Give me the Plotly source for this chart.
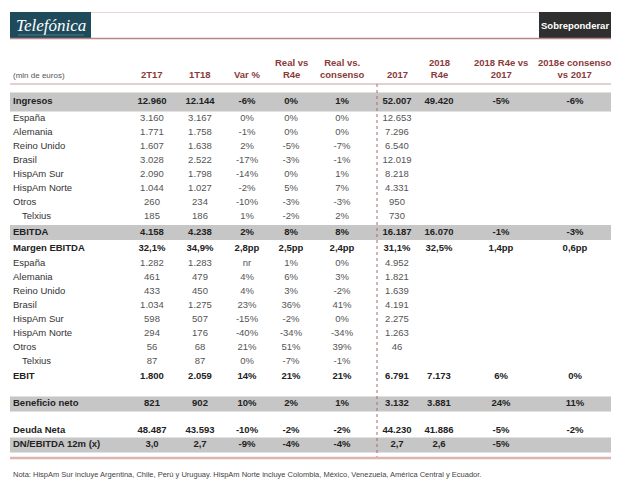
import plotly.graph_objects as go

# ---------------- data ----------------
row_labels = ["Ingresos", "España", "Alemania", "Reino Unido", "Brasil", "HispAm Sur",
              "HispAm Norte", "Otros", "Telxius", "EBITDA", "Margen EBITDA", "España",
              "Alemania", "Reino Unido", "Brasil", "HispAm Sur", "HispAm Norte", "Otros",
              "Telxius", "EBIT", "Beneficio neto", "Deuda Neta", "DN/EBITDA 12m (x)"]
bold_rows = ["Ingresos", "EBITDA", "Margen EBITDA", "EBIT", "Beneficio neto",
             "Deuda Neta", "DN/EBITDA 12m (x)"]
indented_rows = ["Telxius"]
banded_rows = ["Ingresos", "EBITDA", "Beneficio neto", "DN/EBITDA 12m (x)"]

col_headers = ["2T17", "1T18", "Var %", "Real vs<br>R4e", "Real vs.<br>consenso",
               "2017", "2018<br>R4e", "2018 R4e vs<br>2017", "2018e consenso<br>vs 2017"]

col_2T17 = ["12.960", "3.160", "1.771", "1.607", "3.028", "2.090", "1.044", "260", "185",
            "4.158", "32,1%", "1.282", "461", "433", "1.034", "598", "294", "56", "87",
            "1.800", "821", "48.487", "3,0"]
col_1T18 = ["12.144", "3.167", "1.758", "1.638", "2.522", "1.798", "1.027", "234", "186",
            "4.238", "34,9%", "1.283", "479", "450", "1.275", "507", "176", "68", "87",
            "2.059", "902", "43.593", "2,7"]
col_var = ["-6%", "0%", "-1%", "2%", "-17%", "-14%", "-2%", "-10%", "1%",
           "2%", "2,8pp", "nr", "4%", "4%", "23%", "-15%", "-40%", "21%", "0%",
           "14%", "10%", "-10%", "-9%"]
col_real_r4e = ["0%", "0%", "0%", "-5%", "-3%", "0%", "5%", "-3%", "-2%",
                "8%", "2,5pp", "1%", "6%", "3%", "36%", "-2%", "-34%", "51%", "-7%",
                "21%", "2%", "-2%", "-4%"]
col_real_cons = ["1%", "0%", "0%", "-7%", "-1%", "1%", "7%", "-3%", "2%",
                 "8%", "2,4pp", "0%", "3%", "-2%", "41%", "0%", "-34%", "39%", "-1%",
                 "21%", "1%", "-2%", "-4%"]
col_2017 = ["52.007", "12.653", "7.296", "6.540", "12.019", "8.218", "4.331", "950", "730",
            "16.187", "31,1%", "4.952", "1.821", "1.639", "4.191", "2.275", "1.263", "46", "",
            "6.791", "3.132", "44.230", "2,7"]
col_2018_r4e = ["49.420", "", "", "", "", "", "", "", "",
                "16.070", "32,5%", "", "", "", "", "", "", "", "",
                "7.173", "3.881", "41.886", "2,6"]
col_r4e_vs_2017 = ["-5%", "", "", "", "", "", "", "", "",
                   "-1%", "1,4pp", "", "", "", "", "", "", "", "",
                   "6%", "24%", "-5%", "-5%"]
col_cons_vs_2017 = ["-6%", "", "", "", "", "", "", "", "",
                    "-3%", "0,6pp", "", "", "", "", "", "", "", "",
                    "0%", "11%", "-2%", ""]

value_columns = [col_2T17, col_1T18, col_var, col_real_r4e, col_real_cons,
                 col_2017, col_2018_r4e, col_r4e_vs_2017, col_cons_vs_2017]

units_label = "(mln de euros)"
rating = "Sobreponderar"
company = "Telefónica"
note = ("Nota: HispAm Sur incluye Argentina, Chile, Perú y Uruguay. HispAm Norte incluye "
        "Colombia, México, Venezuela, América Central y Ecuador.")

# ---------------- layout (page pixel space) ----------------
W, H = 629, 483
PAGE_OFF = 8          # default body margin of the html page
LEFT, RIGHT = 10, 611
BOX_L = 539
col_x = [152, 200, 247, 291, 342, 397, 439, 501, 575]
label_x = 13
indent_x = 22
divider_x = 377
row_steps = [102, 17, 14, 14, 14, 14, 14, 14, 14, 15.5, 16.5, 15,
             14, 14, 14, 14, 14, 14, 14, 15, 27, 27, 14]
row_y = []
acc = 0
for s in row_steps:
    acc += s
    row_y.append(acc)

FONT = "Liberation Sans, Arial, sans-serif"
HEAD_COLOR = "#8a3a3a"
BAND = "#c6c6c6"
DARK = "#222222"
GREY = "#555555"

fig = go.Figure()

shapes = []
for lab, y in zip(row_labels, row_y):
    if lab in banded_rows:
        half = 9.5 if lab == "Ingresos" else 7.5
        shapes.append(dict(type="rect", x0=LEFT, x1=RIGHT, y0=y - half, y1=y + half,
                           fillcolor=BAND, line=dict(width=0), layer="below"))

shapes += [
    dict(type="rect", x0=LEFT, x1=91, y0=12, y1=38, fillcolor="#1e4b5b", line=dict(width=0)),
    dict(type="line", x0=18, x1=84, y0=35, y1=35, line=dict(color="#6f8e99", width=0.7)),
    dict(type="rect", x0=BOX_L, x1=RIGHT, y0=12, y1=38, fillcolor="#2f2f2f", line=dict(width=0)),
    dict(type="line", x0=91, x1=BOX_L, y0=12.5, y1=12.5, line=dict(color="#e8d6d6", width=1)),
    dict(type="line", x0=LEFT, x1=RIGHT, y0=38.5, y1=38.5, line=dict(color="#b88585", width=1.5)),
    dict(type="line", x0=LEFT, x1=RIGHT, y0=84, y1=84, line=dict(color="#c9a0a0", width=1)),
    dict(type="line", x0=divider_x, x1=divider_x, y0=84, y1=457,
         line=dict(color="#a86868", width=1, dash="dot")),
    dict(type="line", x0=LEFT, x1=RIGHT, y0=458, y1=458, line=dict(color="#dcb4b4", width=2.5)),
]

lab_x = [indent_x if l in indented_rows else label_x for l in row_labels]
lab_txt = [f"<b>{l}</b>" if l in bold_rows else l for l in row_labels]
lab_col = [DARK if l in bold_rows else "#333333" for l in row_labels]
fig.add_trace(go.Scatter(x=lab_x, y=row_y, text=lab_txt, mode="text",
                         textposition="middle right",
                         textfont=dict(family=FONT, size=9.5, color=lab_col),
                         hoverinfo="skip"))

for cx, vals in zip(col_x, value_columns):
    txt = [f"<b>{v}</b>" if l in bold_rows and v else v for l, v in zip(row_labels, vals)]
    cols = [DARK if l in bold_rows else GREY for l in row_labels]
    fig.add_trace(go.Scatter(x=[cx] * len(vals), y=row_y, text=txt, mode="text",
                             textposition="middle center",
                             textfont=dict(family=FONT, size=9.5, color=cols),
                             hoverinfo="skip"))

annotations = []
for cx, h in zip(col_x, col_headers):
    annotations.append(dict(x=cx, y=82, text=f"<b>{h}</b>", showarrow=False,
                            xanchor="center", yanchor="bottom",
                            font=dict(family=FONT, size=9.5, color=HEAD_COLOR)))
annotations += [
    dict(x=label_x - 2, y=82, text=units_label, showarrow=False, xanchor="left",
         yanchor="bottom", font=dict(family=FONT, size=8, color="#555555")),
    dict(x=50.5, y=25, text=company, showarrow=False, xanchor="center", yanchor="middle",
         font=dict(family="Liberation Serif, serif", size=17, color="white", style="italic")),
    dict(x=(BOX_L + RIGHT) / 2, y=25, text=f"<b>{rating}</b>", showarrow=False,
         xanchor="center", yanchor="middle",
         font=dict(family=FONT, size=9.5, color="white")),
    dict(x=label_x - 2, y=474, text=note, showarrow=False, xanchor="left", yanchor="middle",
         font=dict(family=FONT, size=7.5, color="#444444")),
]

fig.update_layout(
    width=W - PAGE_OFF, height=H - PAGE_OFF, margin=dict(l=0, r=0, t=0, b=0),
    paper_bgcolor="white", plot_bgcolor="white", showlegend=False,
    xaxis=dict(range=[PAGE_OFF, W], visible=False, fixedrange=True),
    yaxis=dict(range=[H, PAGE_OFF], visible=False, fixedrange=True),
    shapes=shapes, annotations=annotations,
)
fig.write_html("out.html", config=dict(displayModeBar=False))
